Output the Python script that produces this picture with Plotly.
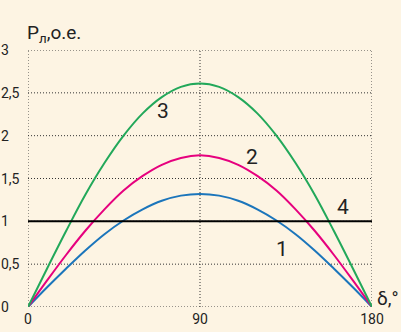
import plotly.graph_objects as go

# load angle, degrees
delta = [0, 10, 20, 30, 40, 50, 60, 70, 80, 90, 100, 110, 120, 130, 140, 150, 160, 170, 180]

# power characteristics, p.u.
p1 = [0, 0.23, 0.45, 0.66, 0.85, 1.01, 1.14, 1.24, 1.30, 1.32, 1.30, 1.24, 1.14, 1.01, 0.85, 0.66, 0.45, 0.23, 0]
p2 = [0, 0.31, 0.61, 0.89, 1.14, 1.36, 1.53, 1.66, 1.74, 1.77, 1.74, 1.66, 1.53, 1.36, 1.14, 0.89, 0.61, 0.31, 0]
p3 = [0, 0.45, 0.89, 1.31, 1.68, 2.00, 2.26, 2.45, 2.57, 2.61, 2.57, 2.45, 2.26, 2.00, 1.68, 1.31, 0.89, 0.45, 0]
p4_x = [0, 180]
p4 = [1, 1]

curve_labels = ["1", "2", "3", "4"]
label_pos = [(133, 0.68), (117, 1.75), (70.5, 2.29), (165, 1.17)]

y_ticks = [0, 0.5, 1, 1.5, 2, 2.5, 3]
y_tick_text = ["0", "0,5", "1", "1,5", "2", "2,5", "3"]
x_ticks = [0, 90, 180]
x_tick_text = ["0", "90", "180"]

FONT = "Roboto, DejaVu Sans Condensed, sans-serif"
BG = "#fdf4e3"
INK = "#222222"
DOTS = "1px,2px"

fig = go.Figure()
fig.add_trace(go.Scatter(x=delta, y=p1, mode="lines", line=dict(color="#1b75bb", width=2, shape="spline"), cliponaxis=False))
fig.add_trace(go.Scatter(x=delta, y=p2, mode="lines", line=dict(color="#e6007e", width=2, shape="spline"), cliponaxis=False))
fig.add_trace(go.Scatter(x=delta, y=p3, mode="lines", line=dict(color="#22a85a", width=2, shape="spline"), cliponaxis=False))
fig.add_trace(go.Scatter(x=p4_x, y=p4, mode="lines", line=dict(color="#000000", width=2), cliponaxis=False))

# dotted grid, including the frame edges
shapes = []
for v in y_ticks:
    shapes.append(dict(type="line", xref="x", yref="y", x0=x_ticks[0], x1=x_ticks[-1], y0=v, y1=v,
                       layer="below", line=dict(color="#333", width=1, dash=DOTS)))
for v in x_ticks:
    shapes.append(dict(type="line", xref="x", yref="y", x0=v, x1=v, y0=y_ticks[0], y1=y_ticks[-1],
                       layer="below", line=dict(color="#333", width=1, dash=DOTS)))

txt_font = dict(family=FONT, size=14, color=INK)
annotations = []
for txt, (lx, ly) in zip(curve_labels, label_pos):
    annotations.append(dict(x=lx, y=ly, xref="x", yref="y", text=txt, showarrow=False,
                            font=dict(family=FONT, size=21, color=INK)))
for v, t in zip(y_ticks, y_tick_text):
    annotations.append(dict(x=0, y=v, xref="paper", yref="y", text=t, showarrow=False,
                            xanchor="left", yanchor="middle", xshift=-29, font=txt_font))
annotations.append(dict(x=0, y=1, xref="paper", yref="paper", text="P<sub>л</sub>,о.е.",
                        showarrow=False, xanchor="left", yanchor="bottom", xshift=-3, yshift=2,
                        font=dict(family=FONT, size=19, color=INK)))
annotations.append(dict(x=1, y=0, xref="paper", yref="paper", text="δ,°",
                        showarrow=False, xanchor="left", yanchor="bottom", xshift=3, yshift=-5,
                        font=dict(family=FONT, size=19, color=INK)))

fig.update_layout(
    width=401, height=332,
    margin=dict(l=28, r=29, t=50, b=25),
    paper_bgcolor=BG, plot_bgcolor=BG,
    showlegend=False,
    shapes=shapes,
    annotations=annotations,
    xaxis=dict(range=[0, 180], tickvals=x_ticks, ticktext=x_tick_text,
               showgrid=False, zeroline=False, showline=False, ticks="", automargin=False,
               ticklabelstandoff=2, tickfont=txt_font),
    yaxis=dict(range=[0, 3], tickvals=y_ticks, showticklabels=False,
               showgrid=False, zeroline=False, showline=False, ticks="", automargin=False),
)

fig.write_html("out.html")
